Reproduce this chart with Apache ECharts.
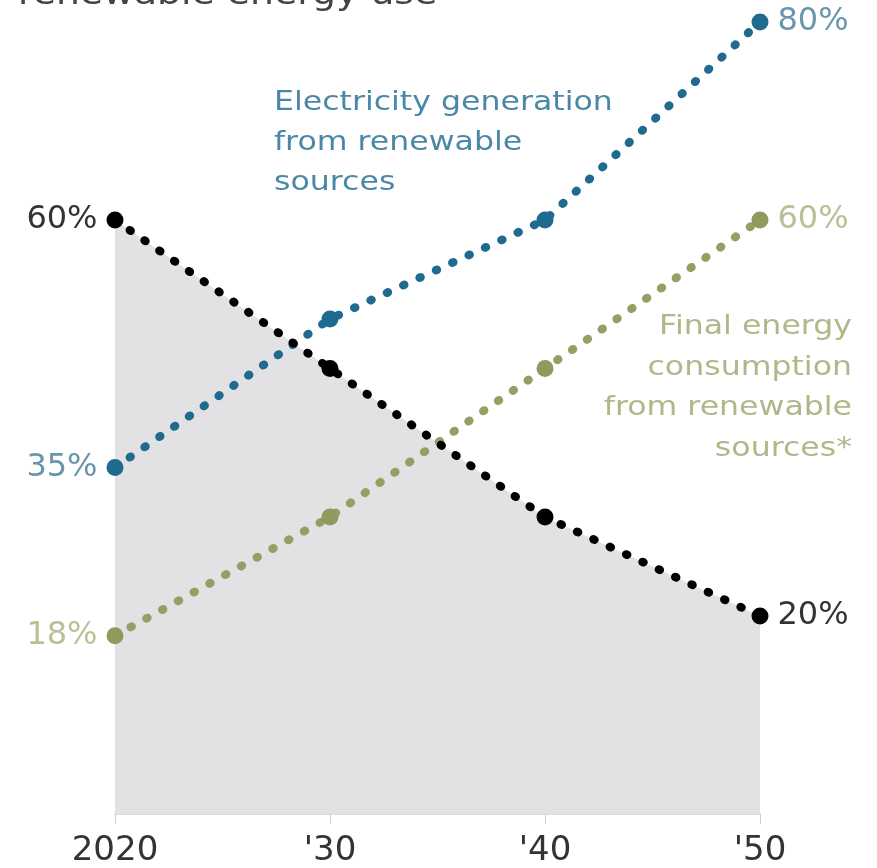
<!DOCTYPE html>
<html><head><meta charset="utf-8">
<script src="https://cdn.jsdelivr.net/npm/echarts@6/dist/echarts.min.js"></script>
<style>html,body{margin:0;padding:0;background:#fff}#c{width:877px;height:868px}</style>
</head><body><div id="c"></div>
<script>
var categories = ['2020', "'30", "'40", "'50"];
var ghg = [60, 45, 30, 20];
var electricity = [35, 50, 60, 80];
var finalEnergy = [18, 30, 45, 60];
var ghgLabels = ['60%', '20%'];
var elecLabels = ['35%', '80%'];
var finalLabels = ['18%', '60%'];

var FONT = '"DejaVu Sans", sans-serif';
function withEndLabels(vals, labels, color, size) {
  return vals.map(function (v, i) {
    var item = { value: v };
    if (i === 0 || i === vals.length - 1) {
      item.label = {
        show: true,
        position: i === 0 ? 'left' : 'right',
        distance: 9,
        formatter: i === 0 ? labels[0] : labels[1],
        color: color,
        fontSize: size,
        fontFamily: FONT
      };
    }
    return item;
  });
}
function dotted(color) {
  return { color: color, width: 8.5, type: [1, 17], cap: 'round' };
}
function txt(x, y, text, size, lh, color, align, sx) {
  return {
    type: 'text', x: x, y: y, scaleX: sx, silent: true,
    style: { text: text, fontSize: size, lineHeight: lh, fill: color, align: align,
             verticalAlign: 'top', fontFamily: FONT }
  };
}

var chart = echarts.init(document.getElementById('c'));
chart.setOption({
  animation: false,
  grid: { left: 115, right: 117, top: 22, bottom: 54 },
  xAxis: {
    type: 'category', data: categories, boundaryGap: false,
    axisLine: { lineStyle: { color: '#cfcfcf', width: 1.5 } },
    axisTick: { show: true, length: 10, lineStyle: { color: '#cfcfcf' } },
    axisLabel: { color: '#333', fontSize: 34, fontFamily: FONT, margin: 20 }
  },
  yAxis: { type: 'value', min: 0, max: 80, show: false, splitLine: { show: false } },
  graphic: [
    { type: 'text', x: 18, y: -4, scaleX: 1.18, silent: true,
      style: { text: 'renewable energy use', fontSize: 32, fill: '#444', verticalAlign: 'middle', fontFamily: FONT } },
    txt(274, 83, 'Electricity generation\nfrom renewable\nsources', 27, 40, '#4b88a6', 'left', 1.17),
    txt(852, 307, 'Final energy\nconsumption\nfrom renewable\nsources*', 27, 40.5, '#b3b688', 'right', 1.17),
    txt(743, 637, 'GHG emissions\ncompared to\n1990 level', 28, 40, '#222', 'right', 1.17)
  ],
  series: [
    {
      type: 'line', data: ghg, symbol: 'none', silent: true,
      lineStyle: { width: 0 },
      areaStyle: { color: '#e2e2e4', opacity: 1 }, z: 1
    },
    {
      type: 'line', data: withEndLabels(electricity, elecLabels, '#6a95ae', 32),
      symbol: 'circle', symbolSize: 17,
      itemStyle: { color: '#1f6a8e' }, lineStyle: dotted('#1f6a8e'), z: 3
    },
    {
      type: 'line', data: withEndLabels(finalEnergy, finalLabels, '#bcbf93', 32),
      symbol: 'circle', symbolSize: 17,
      itemStyle: { color: '#8f9a5c' }, lineStyle: dotted('#959f63'), z: 3
    },
    {
      type: 'line', data: withEndLabels(ghg, ghgLabels, '#333', 32),
      symbol: 'circle', symbolSize: 17,
      itemStyle: { color: '#000' }, lineStyle: dotted('#000'), z: 4
    }
  ]
});
</script></body></html>
